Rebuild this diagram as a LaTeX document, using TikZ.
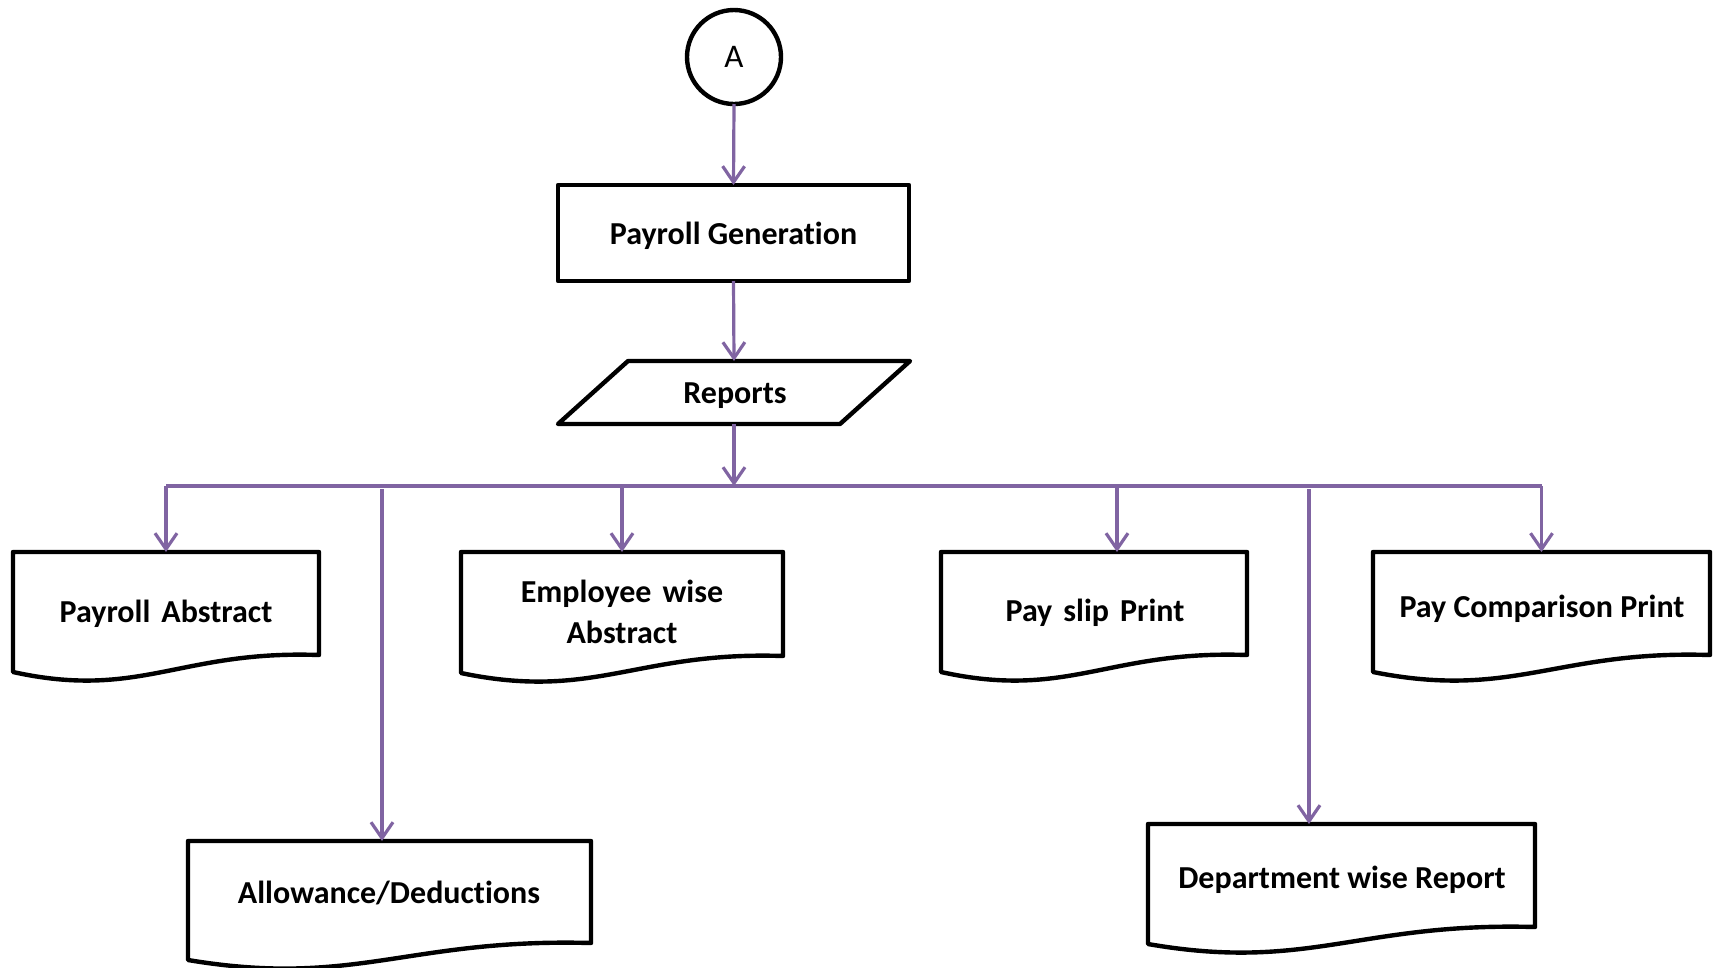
\documentclass[tikz,border=0pt]{standalone}
\usepackage{fontspec}
\setmainfont{Carlito}[Ligatures={NoCommon,NoContextual}]
\usetikzlibrary{arrows.meta,calc}
\definecolor{flowpurple}{HTML}{8064A2}
\newcommand\wsp{\ \hspace{0.12em}}
\tikzset{
  docline/.style={draw=black, line width=4.4pt, line join=round, fill=white},
  docrect/.style={rectangle, draw=none, inner sep=0pt, outer sep=0pt},
  conn/.style={draw=flowpurple, line width=3.2pt},
  arr/.style={conn, -{Straight Barb[length=16pt,width=22pt]}},
  lbl/.style={font=\fontsize{32}{38}\selectfont\bfseries, inner sep=0pt, anchor=base},
}
\newcommand\docbox[5]{%
  \pgfmathsetmacro\docw{#4-#2}%
  \node[docrect, minimum width=\docw pt, minimum height={(#5-#3)*1pt}] (#1) at ({(#2+#4)/2},{(#3+#5)/2}) {};
  \draw[docline] ($(#1.south west)+(0,17)$) .. controls ($(#1.south west)+(0.415*\docw,45)$) and ($(#1.south west)+(0.546*\docw,-5)$) .. (#1.south east) -- (#1.north east) -- (#1.north west) -- cycle;
}
\begin{document}
\begin{tikzpicture}[x=1pt,y=-1pt]
\useasboundingbox (0,0) rectangle (1719,967);
% connector circle
\node[circle, draw=black, line width=4.4pt, fill=white, minimum size=94pt, inner sep=0pt, outer sep=0pt] (A) at (734,57) {};
\node[lbl, font=\fontsize{33}{38}\selectfont] (A-t) at (734,67) {A};
% payroll generation
\node[rectangle, draw=black, line width=4.4pt, line join=round, minimum width=351pt, minimum height=96pt,
      inner sep=0pt, outer sep=0pt] (pg) at (733.5,233) {};
\node[lbl] (pg-t) at (733.5,244) {Payroll Generation};
% reports parallelogram
\node[docrect, minimum width=282pt, minimum height=63pt] (rep) at (734,392.5) {};
\draw[docline] ($(rep.north west)+(35,0)$) -- ($(rep.north east)+(35,0)$) -- ($(rep.south east)+(-35,0)$) -- ($(rep.south west)+(-35,0)$) -- cycle;
\node[lbl] (rep-t) at (735,403) {Reports};
% documents
\docbox{pa}{13}{552}{319}{655}
\node[lbl] (pa-t) at (166,622) {Payroll\wsp Abstract};
\docbox{ew}{461}{552}{783}{656}
\node[lbl] (ew-t1) at (622,602) {Employee\wsp wise};
\node[lbl] (ew-t2) at (622,643) {Abstract};
\docbox{ps}{941}{552}{1247}{655}
\node[lbl] (ps-t) at (1095,621) {Pay\wsp slip\wsp Print};
\docbox{pc}{1373}{552}{1710}{655}
\node[lbl] (pc-t) at (1542,617) {Pay Comparison Print};
\docbox{al}{188}{841}{591}{943}
\node[lbl] (al-t) at (389,903) {Allowance/Deductions};
\docbox{dw}{1148}{824}{1535}{927}
\node[lbl] (dw-t) at (1342,888) {Department wise Report};
% connectors
\coordinate (busy) at (0,486);
\coordinate (busL) at (pa.north |- busy);
\coordinate (busR) at (pc.north |- busy);
\coordinate (ps-in) at (1117,486);
\coordinate (al-in) at (382,489);
\coordinate (dw-in) at (1309,489);
\draw[arr] (A.south) -- (pg.north);
\draw[arr] (pg.south) -- (rep.north);
\draw[arr] (rep.south) -- (rep.south |- busy);
\draw[conn] (busL) -- (busR);
\draw[arr] (busL) -- (pa.north);
\draw[arr] (busR) -- (pc.north);
\draw[arr] (ew.north |- busy) -- (ew.north);
\draw[arr] (ps-in) -- (ps-in |- ps.north);
\draw[arr] (al-in) -- (al-in |- al.north);
\draw[arr] (dw-in) -- (dw-in |- dw.north);
\end{tikzpicture}
\end{document}
